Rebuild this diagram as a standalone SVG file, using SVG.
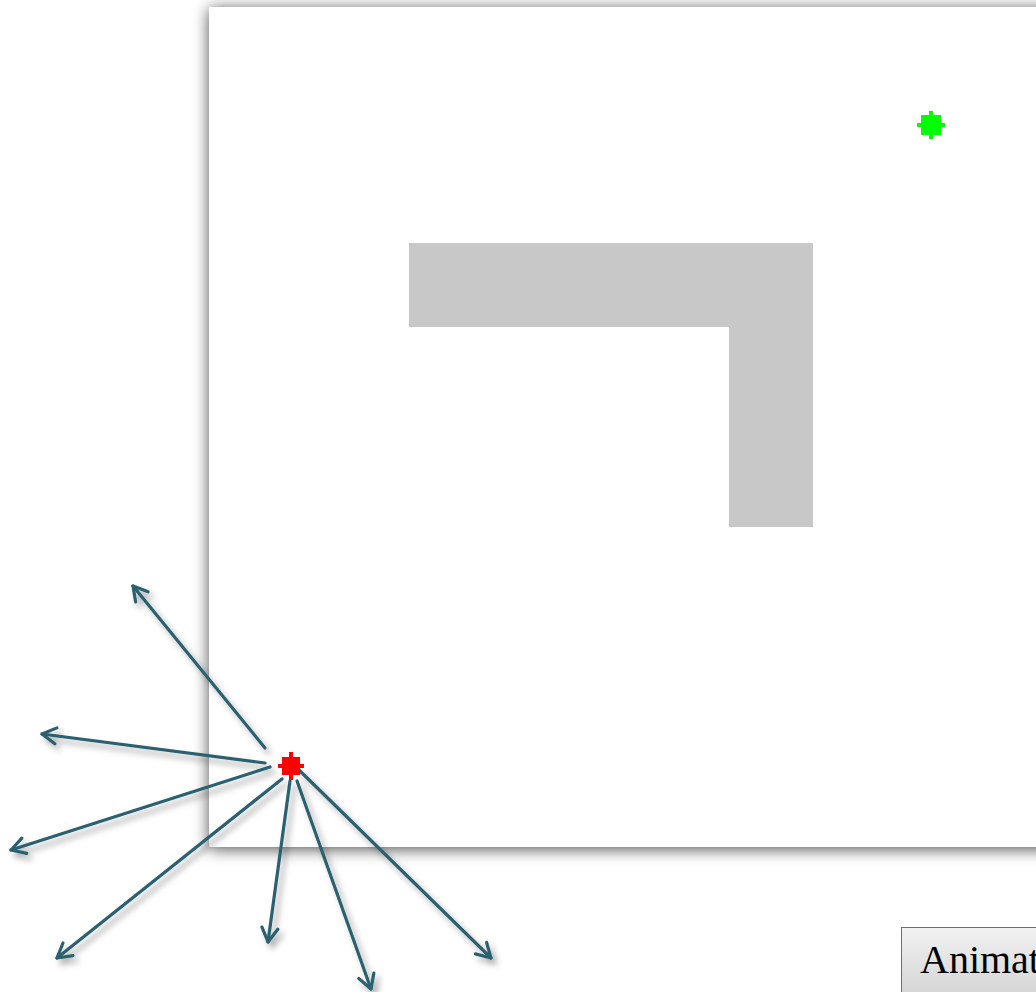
<svg xmlns="http://www.w3.org/2000/svg" width="1036" height="992" viewBox="0 0 1036 992">
<defs>
<filter id="panelShadow" x="-10%" y="-10%" width="120%" height="120%">
<feDropShadow dx="0" dy="2" stdDeviation="8" flood-color="#000" flood-opacity="0.7"/>
</filter>
<filter id="arrowShadow" x="-20%" y="-20%" width="140%" height="140%">
<feDropShadow dx="4" dy="5" stdDeviation="3" flood-color="#000" flood-opacity="0.35"/>
</filter>
<linearGradient id="btnGrad" x1="0" y1="0" x2="0" y2="1">
<stop offset="0" stop-color="#f2f2f2"/>
<stop offset="1" stop-color="#cfcfcf"/>
</linearGradient>
<marker id="head" viewBox="0 0 20 20" refX="17" refY="10" markerWidth="20" markerHeight="20" markerUnits="userSpaceOnUse" orient="auto">
<path d="M3,2 L17,10 L3,18" fill="none" stroke="#2a6170" stroke-width="3.2" stroke-linecap="round" stroke-linejoin="round"/>
</marker>
<style>
.arrow{stroke:#2a6170;stroke-width:3.2;fill:none;stroke-linecap:round;marker-end:url(#head)}
.wall{fill:#c8c8c8}
</style>
</defs>
<rect width="1036" height="992" fill="#fff"/>
<g id="panel">
<rect x="209" y="7" width="860" height="840" fill="#fff" filter="url(#panelShadow)"/>
</g>
<g id="wall">
<path class="wall" d="M409,243 H813 V527 H729 V327 H409 Z"/>
</g>
<g id="goal">
<rect x="921" y="115" width="20" height="20" fill="#00ff00"/>
<rect x="929" y="111" width="4" height="28" fill="#00ff00"/>
<rect x="917" y="123" width="28" height="4" fill="#00ff00"/>
</g>
<g id="connectors" filter="url(#arrowShadow)">
<line class="arrow" x1="265" y1="748" x2="133" y2="586"/>
<line class="arrow" x1="265" y1="763" x2="42" y2="734"/>
<line class="arrow" x1="270" y1="767" x2="11" y2="850"/>
<line class="arrow" x1="282" y1="779" x2="57" y2="958"/>
<line class="arrow" x1="290" y1="781" x2="268" y2="942"/>
<line class="arrow" x1="297" y1="781" x2="371" y2="989"/>
<line class="arrow" x1="299" y1="770" x2="491" y2="958"/>
</g>
<g id="agent">
<rect x="282" y="757" width="18" height="18" fill="#ff0000"/>
<rect x="289" y="752" width="4" height="28" fill="#ff0000"/>
<rect x="278" y="764" width="26" height="4" fill="#ff0000"/>
</g>
<g id="button">
<rect x="901.5" y="927.5" width="160" height="80" fill="url(#btnGrad)" stroke="#6e6e6e" stroke-width="1"/>
<text x="920" y="973" font-family="Liberation Serif, serif" font-size="40" fill="#000">Animat</text>
</g>
</svg>
